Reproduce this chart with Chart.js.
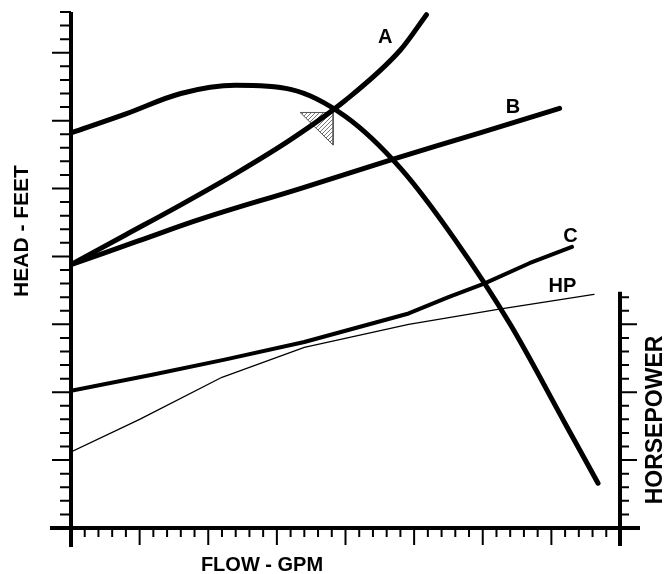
<!DOCTYPE html>
<html>
<head>
<meta charset="utf-8">
<title>Pump and system curves</title>
<script src="https://cdn.jsdelivr.net/npm/chart.js@4.4.1/dist/chart.umd.min.js"></script>
<style>
    html, body { margin: 0; padding: 0; background: #fff; }
    canvas { display: block; }
</style>
</head>
<body>
<canvas id="pump" width="667" height="574"></canvas>
<script>
// ============================================================
//  Data (in minor-tick units)
//  x: 0..40 flow ticks, y: 0..38 head ticks
// ============================================================

const PUMP_X = [0, 4, 8, 12, 16, 20, 24, 28, 32, 36, 38.4];
const PUMP_Y = [29.1, 30.5, 32.0, 32.6, 32.3, 30.3, 26.5, 21.2, 15.0, 7.7, 3.3];

const SYS_A_X = [0, 4, 8, 12, 16, 20, 24, 25.9];
const SYS_A_Y = [19.4, 21.6, 23.8, 26.1, 28.6, 31.5, 35.2, 37.8];

const SYS_B_X = [0, 4.8, 9.6, 16.7, 23.6, 29.8, 35.6];
const SYS_B_Y = [19.4, 21.1, 22.8, 25.0, 27.2, 29.1, 30.9];

const SYS_C_X = [0, 6.0, 11.2, 17.0, 24.6, 27.5, 30.1, 33.4, 36.5];
const SYS_C_Y = [10.1, 11.3, 12.4, 13.7, 15.8, 17.0, 18.0, 19.5, 20.7];

const HP_X = [0, 5.0, 11.0, 17.0, 24.6, 31.1, 38.1];
const HP_Y = [5.6, 8.0, 11.1, 13.3, 15.0, 16.1, 17.2];

// operating point marker (right triangle under the A / pump crossing)
const MARK_X = [16.7, 19.1, 19.1, 16.7];
const MARK_Y = [30.6, 30.6, 28.2, 30.6];

const CURVE_LABELS = ["A", "B", "C", "HP"];
const CURVE_LABEL_X = [22.9, 32.2, 36.4, 35.8];
const CURVE_LABEL_Y = [36.1, 31.0, 21.5, 17.8];

const X_MAX = 40;
const Y_MAX = 38;
const HP_AXIS_TOP = 17.4;   // right (horsepower) axis only covers the lower part

// ============================================================
//  Helpers
// ============================================================

const pts = (xs, ys) => xs.map((x, i) => ({ x, y: ys[i] }));

function hatchPattern() {
    const tile = document.createElement("canvas");
    tile.width = 4;
    tile.height = 4;
    const g = tile.getContext("2d");
    g.fillStyle = "#fff";
    g.fillRect(0, 0, 4, 4);
    g.strokeStyle = "#777";
    g.lineWidth = 1;
    g.beginPath();
    g.moveTo(0, 4);
    g.lineTo(4, 0);
    g.stroke();
    return g.createPattern(tile, "repeat");
}

const FONT = "'Liberation Sans', Arial, sans-serif";

// ============================================================
//  Axes, ticks and text drawn off the chart scales
// ============================================================

const frameAxes = {
    id: "frameAxes",
    afterDatasetsDraw(chart) {
        const { ctx } = chart;
        const xs = chart.scales.x;
        const ys = chart.scales.y;
        const hs = chart.scales.hp;

        const x0 = xs.getPixelForValue(0);
        const x1 = xs.getPixelForValue(X_MAX);
        const y0 = ys.getPixelForValue(0);
        const yTop = ys.getPixelForValue(Y_MAX);
        const hTop = hs.getPixelForValue(HP_AXIS_TOP);

        ctx.save();
        ctx.strokeStyle = "#000";
        ctx.lineCap = "butt";

        // axis lines
        ctx.lineWidth = 4;
        ctx.beginPath();
        ctx.moveTo(x0, yTop); ctx.lineTo(x0, y0 + 19);        // head
        ctx.moveTo(x0 - 21, y0); ctx.lineTo(x1 + 20, y0);      // flow
        ctx.moveTo(x1, hTop); ctx.lineTo(x1, y0 + 18);         // horsepower
        ctx.stroke();

        // ticks
        ctx.lineWidth = 2;
        ctx.beginPath();
        for (let v = 1; v <= Y_MAX; v++) {
            const p = ys.getPixelForValue(v);
            const len = v % 5 === 0 ? 19 : 11;
            ctx.moveTo(x0 - len, p); ctx.lineTo(x0, p);
        }
        for (let v = 1; v < X_MAX; v++) {
            const p = xs.getPixelForValue(v);
            const len = v % 5 === 0 ? 17 : 9;
            ctx.moveTo(p, y0); ctx.lineTo(p, y0 + len);
        }
        for (let v = 1; v <= Math.floor(HP_AXIS_TOP); v++) {
            const p = hs.getPixelForValue(v);
            const len = v % 5 === 0 ? 17 : 9;
            ctx.moveTo(x1, p); ctx.lineTo(x1 + len, p);
        }
        ctx.stroke();

        // curve labels
        ctx.fillStyle = "#000";
        ctx.font = "bold 20px " + FONT;
        ctx.textAlign = "center";
        ctx.textBaseline = "middle";
        CURVE_LABELS.forEach((t, i) => {
            ctx.fillText(t, xs.getPixelForValue(CURVE_LABEL_X[i]), ys.getPixelForValue(CURVE_LABEL_Y[i]));
        });

        // axis titles
        ctx.font = "bold 20px " + FONT;
        ctx.fillText("FLOW - GPM", 262, 565);

        ctx.save();
        ctx.translate(22, 231);
        ctx.rotate(-Math.PI / 2);
        ctx.font = "bold 21px " + FONT;
        ctx.fillText("HEAD - FEET", 0, 0);
        ctx.restore();

        ctx.save();
        ctx.translate(656, 420);
        ctx.rotate(-Math.PI / 2);
        ctx.font = "bold 23px " + FONT;
        ctx.fillText("HORSEPOWER", 0, 0);
        ctx.restore();

        ctx.restore();
    },
};

// ============================================================
//  Chart
// ============================================================

const line = (data, width, extra = {}) => ({
    data,
    borderColor: "#000",
    borderWidth: width,
    pointRadius: 0,
    fill: false,
    tension: 0.4,
    borderCapStyle: "round",
    borderJoinStyle: "round",
    ...extra,
});

new Chart(document.getElementById("pump"), {
    type: "line",
    data: {
        datasets: [
            line(pts(MARK_X, MARK_Y), 1, {
                borderColor: "#555",
                backgroundColor: hatchPattern(),
                fill: "shape",
                tension: 0,
                order: 10,
            }),
            line(pts(HP_X, HP_Y), 1.3, { tension: 0, yAxisID: "hp" }),
            line(pts(SYS_C_X, SYS_C_Y), 4, { tension: 0 }),
            line(pts(SYS_B_X, SYS_B_Y), 5),
            line(pts(SYS_A_X, SYS_A_Y), 5, { cubicInterpolationMode: "monotone" }),
            line(pts(PUMP_X, PUMP_Y), 5, { cubicInterpolationMode: "monotone" }),
        ],
    },
    options: {
        responsive: false,
        animation: false,
        layout: { padding: { left: 71, right: 47, top: 12, bottom: 46 } },
        plugins: {
            legend: { display: false },
            tooltip: { enabled: false },
        },
        scales: {
            x: { type: "linear", min: 0, max: X_MAX, display: false },
            y: { type: "linear", min: 0, max: Y_MAX, display: false },
            hp: { type: "linear", min: 0, max: Y_MAX, display: false },
        },
    },
    plugins: [frameAxes],
});
</script>
</body>
</html>
